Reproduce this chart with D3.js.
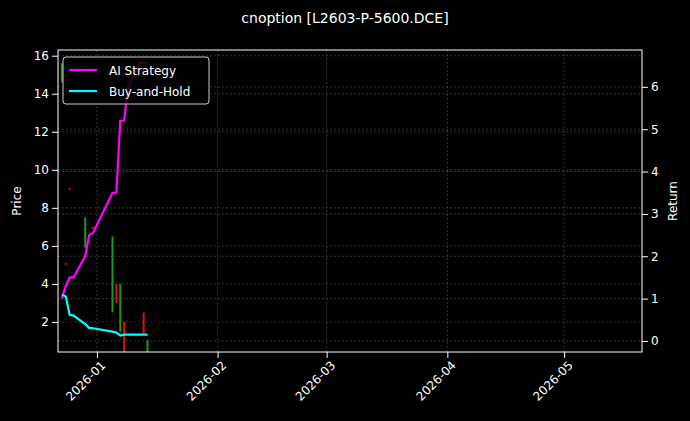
<!DOCTYPE html>
<html>
<head>
<meta charset="utf-8">
<script src="https://cdn.jsdelivr.net/npm/d3@7"></script>
<style>
  body { margin: 0; background: #000; }
  text { font-family: "DejaVu Sans", sans-serif; fill: #fff; }
</style>
</head>
<body>
<svg id="chart" width="690" height="421"></svg>
<script>
// data
var dates = ["2025-12-23","2025-12-24","2025-12-25","2025-12-26","2025-12-29","2025-12-30","2025-12-31",
             "2026-01-05","2026-01-06","2026-01-07","2026-01-08","2026-01-09","2026-01-12","2026-01-13","2026-01-14"];
var aiReturn = [1.0, 1.3, 1.5, 1.5, 2.0, 2.5, 2.55, 3.5, 3.5, 5.2, 5.2, 6.0, 6.57, 6.57, 6.57];
var bhReturn = [1.1, 1.05, 0.62, 0.6, 0.4, 0.31, 0.3, 0.22, 0.2, 0.13, 0.15, 0.15, 0.15, 0.15, 0.15];

var candleDates = ["2025-12-23","2025-12-24","2025-12-25","2025-12-29","2025-12-31","2026-01-05","2026-01-06","2026-01-07","2026-01-08","2026-01-13","2026-01-14"];
var candleOpen  = [14.6, 5.1, 9.05, 5.9, 7.0, 2.5, 4.0, 1.5, 2.0, 2.5, 0.4];
var candleClose = [15.6, 5.0, 8.95, 7.5, 6.9, 6.5, 3.0, 4.0, 0.3, 1.4, 1.05];

var priceTicks = [2, 4, 6, 8, 10, 12, 14, 16];
var returnTicks = [0, 1, 2, 3, 4, 5, 6];
var monthTicks = ["2026-01-01","2026-02-01","2026-03-01","2026-04-01","2026-05-01"];

var parse = d3.timeParse("%Y-%m-%d");
var svg = d3.select("#chart");
var pL = 58, pR = 642, pT = 50, pB = 352;

var x = d3.scaleTime().domain([parse("2025-12-22"), parse("2026-05-21")]).range([pL, pR]);
var yP = d3.scaleLinear().domain([0.42, 16.3]).range([pB, pT]);
var yR = d3.scaleLinear().domain([-0.26, 6.87]).range([pB, pT]);

svg.append("rect").attr("width", 690).attr("height", 421).attr("fill", "#000");

// grid
var grid = svg.append("g").attr("stroke", "#555").attr("stroke-width", 0.6).attr("stroke-dasharray", "2,2");
monthTicks.forEach(function(m) {
  grid.append("line").attr("x1", x(parse(m))).attr("x2", x(parse(m))).attr("y1", pT).attr("y2", pB);
});
priceTicks.forEach(function(t) {
  grid.append("line").attr("x1", pL).attr("x2", pR).attr("y1", yP(t)).attr("y2", yP(t));
});
returnTicks.forEach(function(t) {
  grid.append("line").attr("x1", pL).attr("x2", pR).attr("y1", yR(t)).attr("y2", yR(t));
});

// candles
svg.append("clipPath").attr("id", "clip").append("rect")
  .attr("x", pL).attr("y", pT).attr("width", pR - pL).attr("height", pB - pT);
var plot = svg.append("g").attr("clip-path", "url(#clip)");
for (var i = 0; i < candleDates.length; i++) {
  var o = candleOpen[i], c = candleClose[i];
  plot.append("rect")
    .attr("x", x(parse(candleDates[i])) - 1)
    .attr("width", 2)
    .attr("y", yP(Math.max(o, c)))
    .attr("height", Math.max(1, Math.abs(yP(o) - yP(c))))
    .attr("fill", c >= o ? "#1a9a1a" : "#e01010");
}

// lines
var line = d3.line().x(function(d) { return x(parse(d[0])); }).y(function(d) { return yR(d[1]); });
plot.append("path").datum(d3.zip(dates, aiReturn)).attr("d", line)
  .attr("fill", "none").attr("stroke", "#ff00ff").attr("stroke-width", 2.2);
plot.append("path").datum(d3.zip(dates, bhReturn)).attr("d", line)
  .attr("fill", "none").attr("stroke", "#00ffff").attr("stroke-width", 2.2);

// frame
svg.append("rect").attr("x", pL).attr("y", pT).attr("width", pR - pL).attr("height", pB - pT)
  .attr("fill", "none").attr("stroke", "#fff").attr("stroke-width", 1);

// axes
var xAxis = svg.append("g").attr("transform", "translate(0," + pB + ")")
  .call(d3.axisBottom(x).tickValues(monthTicks.map(parse)).tickFormat(d3.timeFormat("%Y-%m")).tickSizeOuter(0));
xAxis.selectAll("text").attr("transform", "rotate(-45)").attr("text-anchor", "end")
  .attr("dx", "-0.3em").attr("dy", "0.6em").style("font-size", "12px");
var yAxisL = svg.append("g").attr("transform", "translate(" + pL + ",0)")
  .call(d3.axisLeft(yP).tickValues(priceTicks).tickSizeOuter(0));
yAxisL.selectAll("text").style("font-size", "12px");
var yAxisR = svg.append("g").attr("transform", "translate(" + pR + ",0)")
  .call(d3.axisRight(yR).tickValues(returnTicks).tickSizeOuter(0));
yAxisR.selectAll("text").style("font-size", "12px");
svg.selectAll(".domain").remove();
svg.selectAll(".tick line").attr("stroke", "#fff");

// labels
svg.append("text").attr("x", 345).attr("y", 23).attr("text-anchor", "middle").style("font-size", "14px")
  .text("cnoption [L2603-P-5600.DCE]");
svg.append("text").attr("transform", "translate(21,201) rotate(-90)").attr("text-anchor", "middle")
  .style("font-size", "12px").text("Price");
svg.append("text").attr("transform", "translate(677,201) rotate(-90)").attr("text-anchor", "middle")
  .style("font-size", "12px").text("Return");

// legend
var lg = svg.append("g").attr("transform", "translate(63,57)");
lg.append("rect").attr("width", 146).attr("height", 47).attr("rx", 3)
  .attr("fill", "#000").attr("fill-opacity", 0.8).attr("stroke", "#ccc");
[["AI Strategy", "#ff00ff"], ["Buy-and-Hold", "#00ffff"]].forEach(function(e, k) {
  var yy = 13 + k * 21;
  lg.append("line").attr("x1", 6).attr("x2", 34).attr("y1", yy).attr("y2", yy)
    .attr("stroke", e[1]).attr("stroke-width", 2.2);
  lg.append("text").attr("x", 46).attr("y", yy + 4.5).style("font-size", "12px").text(e[0]);
});
</script>
</body>
</html>
